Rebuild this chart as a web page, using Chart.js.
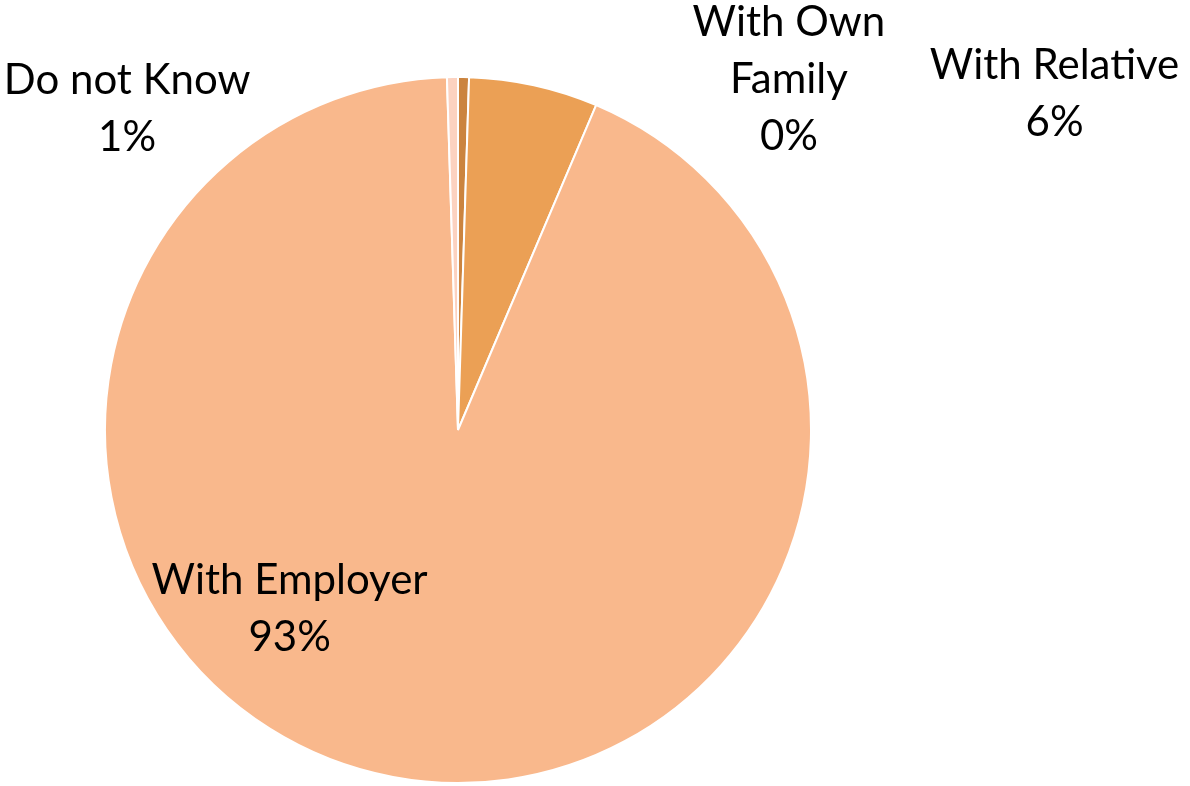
<!DOCTYPE html>
<html>
<head>
<meta charset="utf-8">
<script src="https://cdn.jsdelivr.net/npm/chart.js@4/dist/chart.umd.min.js"></script>
<style>
  html, body { margin: 0; padding: 0; background: #fff; }
  #wrap { width: 1190px; height: 786px; }
</style>
</head>
<body>
<div id="wrap"><canvas id="myChart" width="1190" height="786"></canvas></div>
<script>
const categories = ['With Own Family', 'With Relative', 'With Employer', 'Do not Know'];
const shares = [0.5, 5.9, 93.1, 0.5];
const shownPct = ['0%', '6%', '93%', '1%'];
const sliceColors = ['#CB843F', '#EBA055', '#F9B88C', '#FCD2C0'];

// label text lines, and where their middle sits relative to the pie centre (in radii)
const labelLines = [['With Own', 'Family'], ['With Relative'], ['With Employer'], ['Do not Know']];
const labelAt = [[0.9375, -0.994], [1.69, -0.952], [-0.477, 0.506], [-0.9375, -0.909]];

const dataLabels = {
    id: 'dataLabels',
    afterDraw(chart) {
        const ctx = chart.ctx;
        const arc = chart.getDatasetMeta(0).data[0];
        const cx = arc.x, cy = arc.y, r = arc.outerRadius;
        ctx.save();
        ctx.fillStyle = '#000';
        ctx.font = '42px Lato, "Open Sans", sans-serif';
        ctx.textAlign = 'center';
        ctx.textBaseline = 'middle';
        const lineH = 57;
        categories.forEach((c, i) => {
            const lines = labelLines[i].concat([shownPct[i]]);
            const x = cx + labelAt[i][0] * r;
            const y0 = cy + labelAt[i][1] * r;
            const top = y0 - (lines.length - 1) * lineH / 2;
            lines.forEach((t, k) => ctx.fillText(t, x, top + k * lineH));
        });
        ctx.restore();
    }
};

new Chart(document.getElementById('myChart'), {
    type: 'pie',
    data: {
        labels: categories,
        datasets: [{
            data: shares,
            backgroundColor: sliceColors,
            borderColor: '#ffffff',
            borderWidth: 2
        }]
    },
    options: {
        responsive: false,
        animation: false,
        layout: { padding: { top: 76, bottom: 2, left: 104, right: 378 } },
        plugins: {
            legend: { display: false },
            tooltip: { enabled: false }
        }
    },
    plugins: [dataLabels]
});
</script>
</body>
</html>
